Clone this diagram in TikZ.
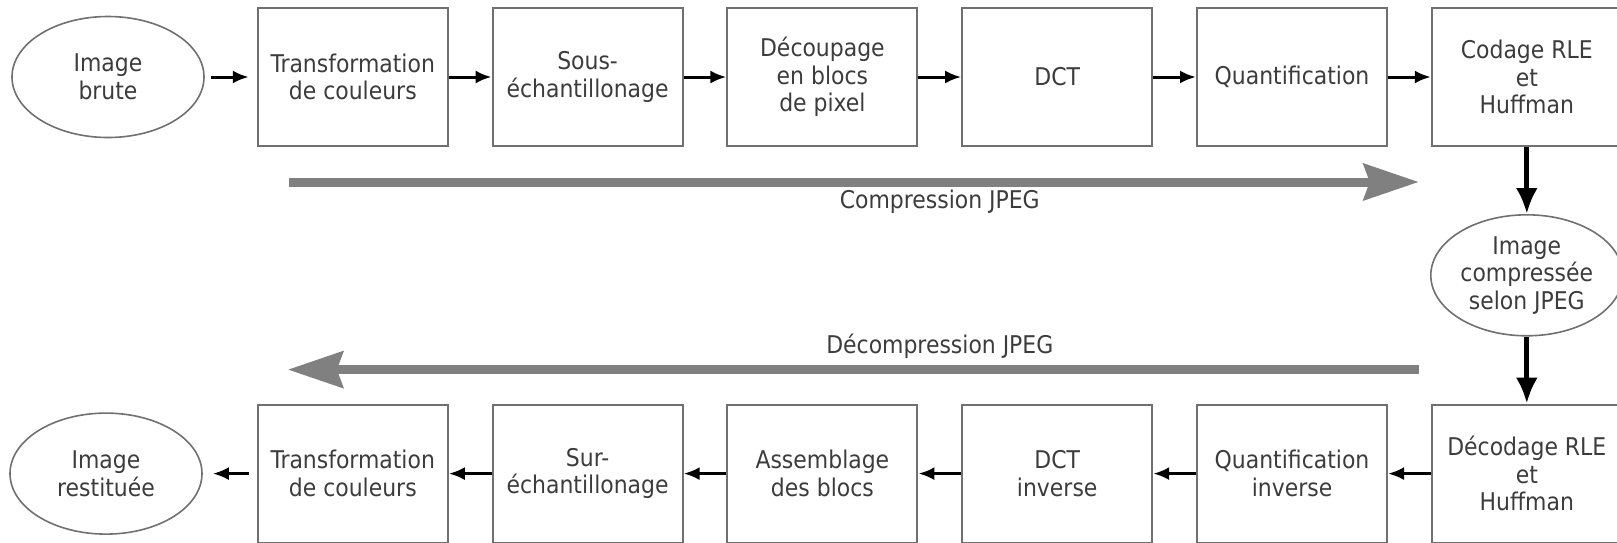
\documentclass[tikz,border=0pt]{standalone}
\usepackage{fontspec}
\setmainfont{DejaVu Sans Condensed}
\usetikzlibrary{arrows.meta,positioning,shapes.geometric,calc}
\definecolor{JpegInk}{HTML}{3C3C3C}
\definecolor{JpegFrame}{HTML}{707070}
\definecolor{JpegPhase}{HTML}{808080}

\begin{document}
\begin{tikzpicture}[
    font=\fontsize{12.2}{13.8}\selectfont,
    text=JpegInk,
    stage/.style={
        rectangle,
        draw=JpegFrame,
        line width=1pt,
        minimum width=95pt,
        minimum height=69pt,
        inner sep=0pt,
        align=center
    },
    imagestate/.style={
        ellipse,
        draw=JpegFrame,
        line width=0.8pt,
        minimum width=96pt,
        minimum height=60.5pt,
        inner sep=0pt,
        align=center
    },
    flow/.style={
        -{Latex[length=8pt,width=6.5pt]},
        line width=1.5pt,
        draw=black
    },
    bigflow/.style={
        -{Latex[length=13pt,width=11pt]},
        line width=2.5pt,
        draw=black
    },
    phase/.style={
        -{Stealth[length=27.5pt,width=18pt,inset=3pt]},
        line width=4.5pt,
        draw=JpegPhase
    },
    phase label/.style={
        inner sep=0pt
    },
    node distance=21.4pt
]
    \useasboundingbox (0,0) rectangle (808.5pt,-271pt);

    % compression row
    \node[imagestate] (raw) at (54pt,-38.5pt) {Image\\brute};
    \node[stage, right=26pt of raw] (colortf) {Transformation\\de couleurs};
    \node[stage, right=of colortf] (subsamp) {Sous-\\échantillonage};
    \node[stage, right=of subsamp] (blocks) {Découpage\\en blocs\\de pixel};
    \node[stage, right=of blocks] (dct) {DCT};
    \node[stage, right=of dct] (quant) {Quantification};
    \node[stage, right=of quant] (rle) {Codage RLE\\et\\Huffman};

    \node[imagestate, below=33.5pt of rle] (compressed)
        {Image\\compressée\\selon JPEG};

    % decompression row
    \node[stage, below=33.5pt of compressed] (rledec) {Décodage RLE\\et\\Huffman};
    \node[stage, left=of rledec] (iquant) {Quantification\\inverse};
    \node[stage, left=of iquant] (idct) {DCT\\inverse};
    \node[stage, left=of idct] (assemb) {Assemblage\\des blocs};
    \node[stage, left=of assemb] (upsamp) {Sur-\\échantillonage};
    \node[stage, left=of upsamp] (icolortf) {Transformation\\de couleurs};
    \node[imagestate, left=27pt of icolortf] (restored) {Image\\restituée};

    \path[flow]
        (raw) edge[shorten <=3pt, shorten >=4pt] (colortf)
        (colortf) edge (subsamp)
        (subsamp) edge (blocks)
        (blocks) edge (dct)
        (dct) edge (quant)
        (quant) edge (rle);

    \path[bigflow]
        (rle) edge (compressed)
        (compressed) edge (rledec);

    \path[flow]
        (rledec) edge (iquant)
        (iquant) edge (idct)
        (idct) edge (assemb)
        (assemb) edge (upsamp)
        (upsamp) edge (icolortf)
        (icolortf) edge[shorten <=4pt, shorten >=5pt] (restored);

    % phase arrows
    \coordinate (compstart) at ([xshift=16pt,yshift=-17.5pt]colortf.south west);
    \coordinate (compend) at ([xshift=-6pt,yshift=-17.5pt]rle.south west);
    \draw[phase] (compstart) -- (compend);
    \coordinate (decompstart) at ([xshift=-6pt,yshift=17pt]rledec.north west);
    \coordinate (decompend) at ([xshift=15.5pt,yshift=17pt]icolortf.north west);
    \draw[phase] (decompstart) -- (decompend);

    \path (blocks.east) -- (dct.west) coordinate[midway] (topmid);
    \node[phase label] (comptext) at ($(topmid |- compstart)+(0,-10pt)$)
        {Compression JPEG};
    \path (assemb.east) -- (idct.west) coordinate[midway] (botmid);
    \node[phase label] (decomptext) at ($(botmid |- decompstart)+(0,11.5pt)$)
        {Décompression JPEG};
\end{tikzpicture}
\end{document}
